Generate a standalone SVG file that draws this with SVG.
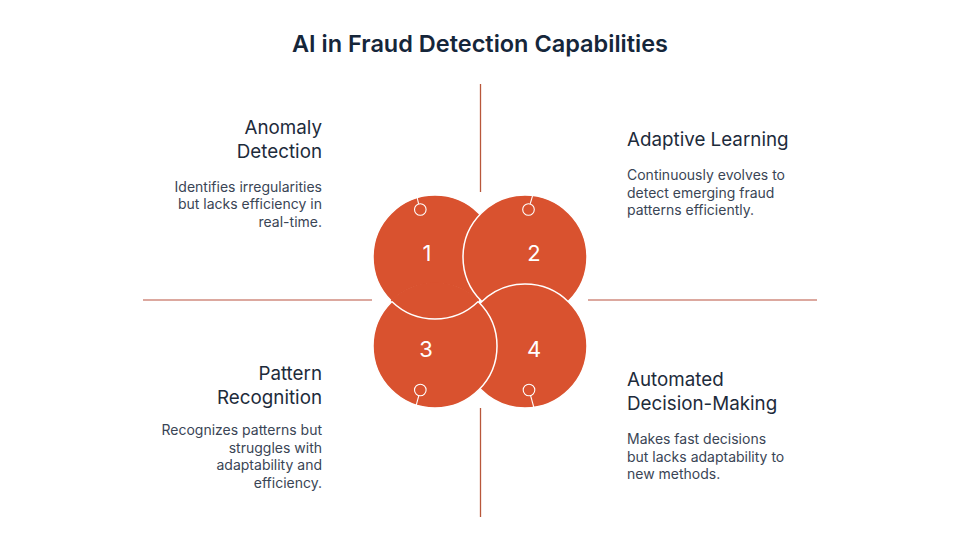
<svg xmlns="http://www.w3.org/2000/svg" width="960" height="540" viewBox="0 0 960 540">
<style>
.title{font-family:Inter,"Liberation Sans",sans-serif;font-weight:600;font-size:23.5px;fill:#15263a}
.head{font-family:Inter,"Liberation Sans",sans-serif;font-size:18.8px;fill:#1d2b3b}
.body{font-family:Inter,"Liberation Sans",sans-serif;font-size:14px;fill:#3a4555}
.num{font-family:Inter,"Liberation Sans",sans-serif;font-size:22px;fill:#ffffff;text-anchor:middle}
.big{fill:#d9522f;stroke:#ffffff;stroke-width:1.5}
.fillonly{fill:#d9522f;stroke:none}
.arc{fill:none;stroke:#ffffff;stroke-width:1.5}
.dot{fill:none;stroke:#ffffff;stroke-width:1.1}
.hl{stroke:#dca89f;stroke-width:2}
.vl{stroke:#b8573a;stroke-width:1.3}
.r{text-anchor:end}
</style>
<rect width="960" height="540" fill="#ffffff"/>
<text class="title" x="480" y="52" text-anchor="middle">AI in Fraud Detection Capabilities</text>
<g id="connectors">
<line class="vl" x1="480.5" y1="84" x2="480.5" y2="192"/>
<line class="vl" x1="480.5" y1="408" x2="480.5" y2="517"/>
<line class="hl" x1="143" y1="300" x2="372" y2="300"/>
<line class="hl" x1="588" y1="300" x2="817" y2="300"/>
</g>
<g id="circles">
<circle class="big" cx="435" cy="257" r="62"/>
<circle class="big" cx="525" cy="257" r="62"/>
<circle class="big" cx="525" cy="346" r="62"/>
<circle class="big" cx="435" cy="346" r="62"/>
<path class="fillonly" d="M390.76,300.44 A62,62 0 0 0 479.24,300.44 A63.5,63.5 0 0 0 390.76,300.44 Z"/>
<path class="arc" d="M391.83,301.5 A62,62 0 0 0 478.17,301.5"/>
</g>
<g id="node1">
<circle class="dot" cx="420.3" cy="209.5" r="5.8"/>
<line class="dot" x1="418.6" y1="203.8" x2="416.8" y2="196"/>
<text class="num" x="427" y="261">1</text>
<text class="head r" x="322" y="134">Anomaly</text>
<text class="head r" x="322" y="158">Detection</text>
<text class="body r" x="322" y="191.5">Identifies irregularities</text>
<text class="body r" x="322" y="209">but lacks efficiency in</text>
<text class="body r" x="322" y="226.5">real-time.</text>
</g>
<g id="node2">
<circle class="dot" cx="528.5" cy="209.5" r="5.8"/>
<line class="dot" x1="530.2" y1="203.8" x2="532.5" y2="196"/>
<text class="num" x="534" y="261">2</text>
<text class="head" x="627" y="146">Adaptive Learning</text>
<text class="body" x="627" y="180">Continuously evolves to</text>
<text class="body" x="627" y="197.5">detect emerging fraud</text>
<text class="body" x="627" y="215">patterns efficiently.</text>
</g>
<g id="node3">
<circle class="dot" cx="420.3" cy="390" r="5.8"/>
<line class="dot" x1="418.8" y1="395.7" x2="416" y2="406"/>
<text class="num" x="426" y="357">3</text>
<text class="head r" x="322" y="380">Pattern</text>
<text class="head r" x="322" y="404">Recognition</text>
<text class="body r" x="322" y="435">Recognizes patterns but</text>
<text class="body r" x="322" y="452.5">struggles with</text>
<text class="body r" x="322" y="470">adaptability and</text>
<text class="body r" x="322" y="487.5">efficiency.</text>
</g>
<g id="node4">
<circle class="dot" cx="529" cy="390" r="5.8"/>
<line class="dot" x1="530.6" y1="395.6" x2="534" y2="408"/>
<text class="num" x="534" y="357">4</text>
<text class="head" x="627" y="386">Automated</text>
<text class="head" x="627" y="410">Decision-Making</text>
<text class="body" x="627" y="444">Makes fast decisions</text>
<text class="body" x="627" y="461.5">but lacks adaptability to</text>
<text class="body" x="627" y="479">new methods.</text>
</g>
</svg>
